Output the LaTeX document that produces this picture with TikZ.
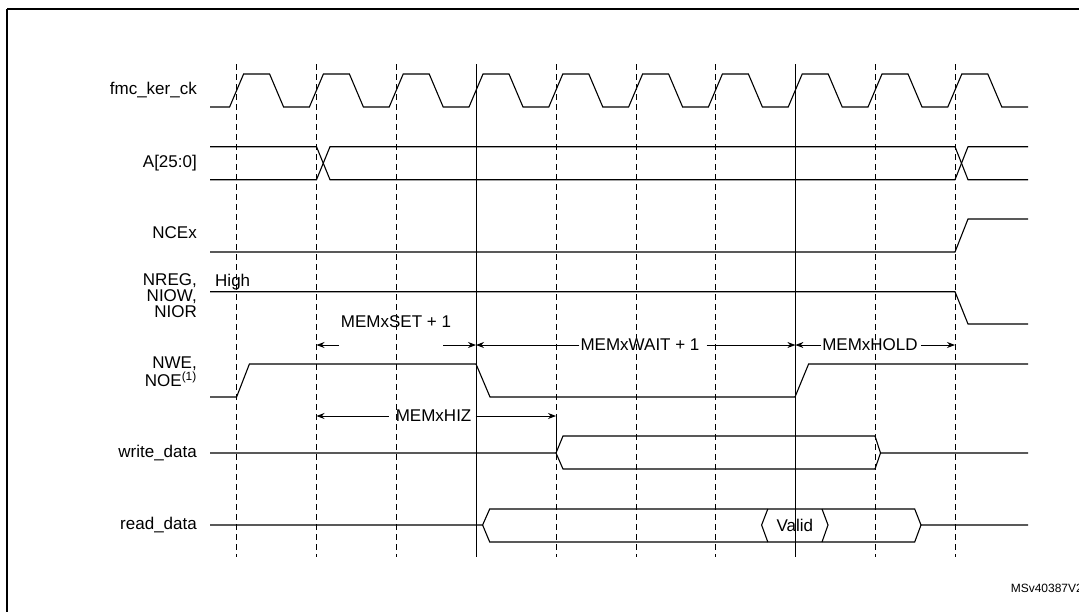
\documentclass[tikz,border=0pt]{standalone}
\usepackage{fontspec}
\setmainfont{Liberation Sans}
\usetikzlibrary{arrows.meta}
\begin{document}
\begin{tikzpicture}[x=1pt,y=-1pt,
  sig/.style={line width=1.1pt},
  grid/.style={line width=0.6pt,dash pattern=on 6pt off 4pt},
  gsolid/.style={line width=0.6pt},
  lab/.style={anchor=east,font=\fontsize{17}{16}\selectfont,inner sep=0pt},
  ann/.style={font=\fontsize{17}{17}\selectfont,inner sep=1pt},
  dim/.style={line width=0.8pt,-{Stealth[length=8pt,width=6pt]}}]
\useasboundingbox (0,0) rectangle (1079,611);
\draw[line width=1.2pt] (7,9) -- (1085,9);
\draw[line width=1.2pt] (7,9) -- (7,620);
% grid lines
\foreach \x in {236.6,316.5,396.3,556,635.8,715.6,875.2,955}
  \draw[grid] (\x,64) -- (\x,557);
\foreach \x in {476,795.4}
  \draw[gsolid] (\x,64) -- (\x,557);
% labels
\node[lab] (l1) at (197,90) {fmc\_ker\_ck};
\node[lab] (l2) at (197,163) {A[25:0]};
\node[lab] (l3) at (197,233) {NCEx};
\node[lab,align=right] (l4) at (197,296) {NREG,\\NIOW,\\NIOR};
\node[lab,align=right] (l5) at (197,372) {NWE,\\NOE\textsuperscript{(1)}};
\node[lab] (l6) at (197,453) {write\_data};
\node[lab] (l7) at (197,525) {read\_data};
\node[ann,anchor=west] (hi) at (214,282) {High};
% clock
\draw[sig] (210,107)
 \foreach \i in {0,...,9} {
   -- ({229.6+79.8*\i},107) -- ({243.6+79.8*\i},74) -- ({269.6+79.8*\i},74) -- ({283.6+79.8*\i},107)
 } -- (1028,107);
% address
\draw[sig] (210,146.7) -- (316.5,146.7) -- (330,179.7) -- (955,179.7) -- (968,146.7) -- (1028,146.7);
\draw[sig] (210,179.7) -- (316.5,179.7) -- (330,146.7) -- (955,146.7) -- (968,179.7) -- (1028,179.7);
% NCEx
\draw[sig] (210,252) -- (955,252) -- (968,219) -- (1028,219);
% NREG
\draw[sig] (210,291.7) -- (955,291.7) -- (968,324) -- (1028,324);
% NWE
\draw[sig] (210,397) -- (236.6,397) -- (249.4,364) -- (476,364) -- (490,397) -- (795,397) -- (808.6,364) -- (1028,364);
% write data
\draw[sig] (210,453) -- (556,453) -- (563,436) -- (875,436) -- (880.5,453) -- (1028,453);
\draw[sig] (556,453) -- (563,469) -- (875,469) -- (880.5,453);
% read data
\draw[sig] (210,525) -- (482.6,525) -- (489.7,509) -- (914.7,509) -- (921,525) -- (1028,525);
\draw[sig] (482.6,525) -- (489.7,542) -- (914.7,542) -- (921,525);
\draw[sig] (761.6,525) -- (767.8,509) (761.6,525) -- (767.8,542);
\draw[sig] (828,525) -- (822,509) (828,525) -- (822,542);
\node[ann] (v) at (794.8,525) {Valid};
% dimensions
\node[ann] (set) at (396,322) {MEMxSET + 1};
\coordinate (s1) at (339,345); \coordinate (s2) at (443,345);
\coordinate (g1) at (316.5,345); \coordinate (g2) at (476,345);
\draw[dim] (s1) -- (g1);
\draw[dim] (s2) -- (g2);
\node[ann] (wait) at (640,345) {MEMxWAIT + 1};
\coordinate (w2) at (795.4,345);
\draw[dim] (wait.west) -- (g2);
\draw[dim] (wait.east) ++(6,0) -- (w2);
\node[ann] (hold) at (870,345) {MEMxHOLD};
\coordinate (h2) at (955,345);
\draw[dim] (hold.west) -- (w2);
\draw[dim] (hold.east) ++(2,0) -- (h2);
\node[ann] (hiz) at (433.6,416) {MEMxHIZ};
\coordinate (z1) at (316.5,416); \coordinate (z2) at (556,416);
\draw[dim] (hiz.west) ++(-6,0) -- (z1);
\draw[dim] (hiz.east) ++(3,0) -- (z2);
\coordinate (z3) at (556,453);
\draw[gsolid] (z2) -- (z3);
\node[anchor=east,font=\fontsize{12}{13}\selectfont,inner sep=0pt] (ms) at (1083,588) {MSv40387V2};
\end{tikzpicture}
\end{document}
